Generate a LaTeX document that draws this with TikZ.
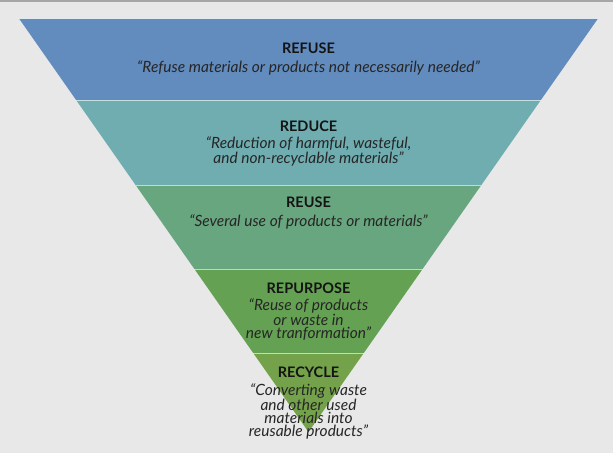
\documentclass[tikz,border=0pt]{standalone}
\usepackage{fontspec}
\setmainfont{Lato}
\begin{document}
\begin{tikzpicture}[x=1pt,y=-1pt,
  title/.style={font=\fontsize{14.5}{14.5}\selectfont\bfseries, text=black!92, inner sep=0pt},
  quote/.style={font=\fontsize{15.5}{13}\selectfont\itshape, text=black!85, align=center, inner sep=0pt},
  sep/.style={draw=white, draw opacity=0.6, line width=1pt}]
\definecolor{bg}{HTML}{E8E8E8}
\definecolor{bar}{HTML}{A6A6A6}
\definecolor{cRefuse}{HTML}{628BBE}
\definecolor{cReduce}{HTML}{6FADB1}
\definecolor{cReuse}{HTML}{68A67F}
\definecolor{cRepurpose}{HTML}{64A152}
\definecolor{cRecycle}{HTML}{74A24A}
\useasboundingbox (0,0) rectangle (613,453);
\fill[bg] (0,0) rectangle (613,453);
\fill[bar] (0,0) rectangle (613,2);
% bands
\fill[cRefuse] (19,18.5) -- (598,18.5) -- (540.9,100) -- (76.1,100) -- cycle;
\fill[cReduce] (76.1,100) -- (540.9,100) -- (481.4,185) -- (135.6,185) -- cycle;
\fill[cReuse] (135.6,185) -- (481.4,185) -- (422.6,269) -- (194.4,269) -- cycle;
\fill[cRepurpose] (194.4,269) -- (422.6,269) -- (363.8,353) -- (253.2,353) -- cycle;
\fill[cRecycle] (253.2,353) -- (363.8,353) -- (308.5,432) -- cycle;
% separators
\draw[sep] (19,18.5) -- (598,18.5);
\draw[sep] (76.1,100) -- (540.9,100);
\draw[sep] (135.6,185) -- (481.4,185);
\draw[sep] (194.4,269) -- (422.6,269);
\draw[sep] (253.2,353) -- (363.8,353);
% texts
\node[title] (t1) at (308.5,48.5) {REFUSE};
\node[quote] (q1) at (308.5,67.5) {“Refuse materials or products not necessarily needed”};
\node[title] (t2) at (308.5,126) {REDUCE};
\node[quote] (q2) at (308.5,151.5) {“Reduction of harmful, wasteful,\\ and non-recyclable materials”};
\node[title] (t3) at (308.5,202) {REUSE};
\node[quote] (q3) at (308.5,221.5) {“Several use of products or materials”};
\node[title] (t4) at (308.5,288) {REPURPOSE};
\node[quote] (q4) at (308.5,319.5) {“Reuse of products\\ or waste in\\ new tranformation”};
\node[title] (t5) at (308.5,372.5) {RECYCLE};
\node[quote] (q5) at (308.5,411.5) {“Converting waste\\ and other used\\ materials into\\ reusable products”};
\end{tikzpicture}
\end{document}
